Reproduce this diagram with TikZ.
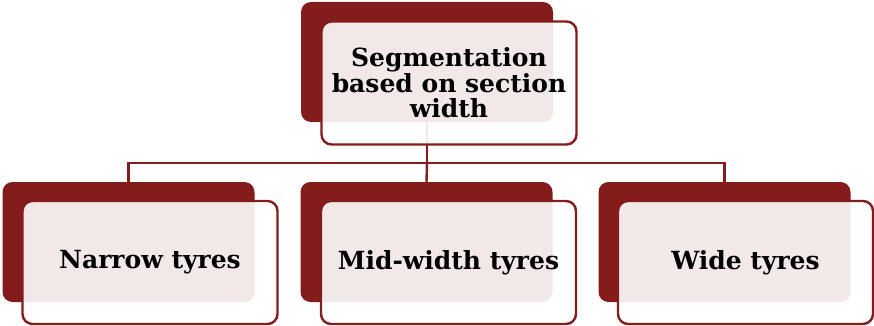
\documentclass[tikz,border=0pt]{standalone}
\usepackage{fontspec}
\setmainfont{DejaVu Serif}
\definecolor{dred}{HTML}{841C1C}
\begin{document}
\begin{tikzpicture}[x=1pt,y=-1pt,
  backbox/.style={draw=none,fill=dred,rounded corners=10pt,minimum width=252pt,minimum height=120pt,inner sep=0pt},
  frontbox/.style={draw=dred,line width=2.4pt,fill=white,fill opacity=0.9,draw opacity=1,text opacity=1,rounded corners=10pt,minimum width=255pt,minimum height=123pt,inner sep=0pt,align=center,font=\bfseries\fontsize{25}{25.5}\selectfont},
  conn/.style={draw=dred,line width=2.4pt}]
\useasboundingbox (0,0) rectangle (874,326);
% back boxes
\node[backbox] (tb) at (427,62) {};
\node[backbox] (nb) at (128.5,242) {};
\node[backbox] (mb) at (426.5,242) {};
\node[backbox] (wb) at (724.5,242) {};
% connectors
\coordinate (bus) at (427,163);
\draw[conn] (tb.south) -- (bus);
\draw[conn] (nb.north) |- (bus) -| (wb.north);
\draw[conn] (bus) -- (mb.north);
% front boxes
\node[frontbox] (tf) at (449,83) {Segmentation\\based on section\\width};
\node[frontbox] (nf) at (150,262.5) {Narrow tyres};
\node[frontbox] (mf) at (448.5,262.5) {Mid-width tyres};
\node[frontbox] (wf) at (745.5,262.5) {Wide tyres};
\end{tikzpicture}
\end{document}
